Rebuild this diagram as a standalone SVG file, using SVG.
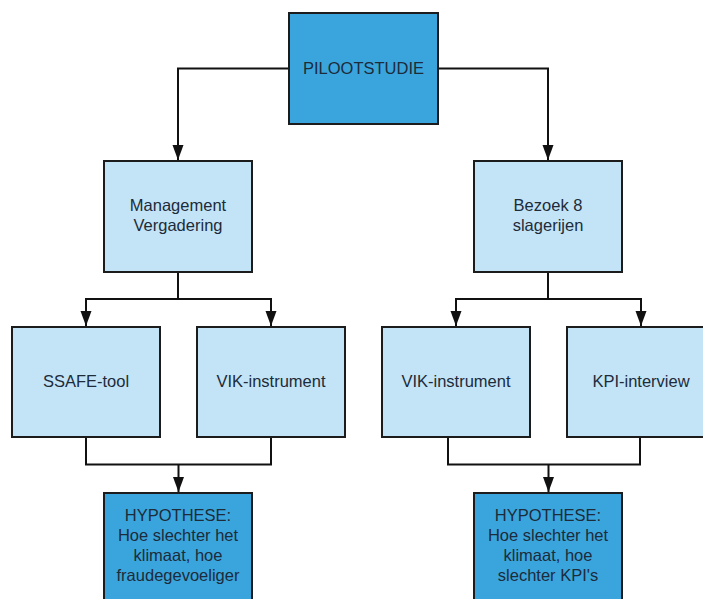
<svg xmlns="http://www.w3.org/2000/svg" width="703" height="599" viewBox="0 0 703 599">
  <defs>
    <style>
      .box { stroke: #1c1c1c; stroke-width: 2; }
      .dark { fill: #3aa5dd; }
      .light { fill: #c3e4f7; }
      .lbl { font-family: "Liberation Sans", Arial, sans-serif; font-size: 16.5px; fill: #1d2b3a; text-anchor: middle; }
      .wire { fill: none; stroke: #111; stroke-width: 2; }
    </style>
    <marker id="arrow" markerUnits="userSpaceOnUse" markerWidth="14" markerHeight="12" refX="15" refY="6" orient="auto">
      <path d="M0,0.5 L15,6 L0,11.5 z" fill="#111"/>
    </marker>
  </defs>

  <rect width="703" height="599" fill="#ffffff"/>

  <!-- connectors -->
  <g id="connectors">
    <path class="wire" d="M289,68.5 H178 V160" marker-end="url(#arrow)"/>
    <path class="wire" d="M438,68.5 H548 V160" marker-end="url(#arrow)"/>
    <path class="wire" d="M178,272 V299 H86 V326" marker-end="url(#arrow)"/>
    <path class="wire" d="M178,299 H271 V326" marker-end="url(#arrow)"/>
    <path class="wire" d="M548,272 V299 H456 V326" marker-end="url(#arrow)"/>
    <path class="wire" d="M548,299 H641 V326" marker-end="url(#arrow)"/>
    <path class="wire" d="M86,437 V464.5 H271 V437"/>
    <path class="wire" d="M178.5,464.5 V492" marker-end="url(#arrow)"/>
    <path class="wire" d="M448,437 V464.5 H640 V437"/>
    <path class="wire" d="M548.5,464.5 V492" marker-end="url(#arrow)"/>
  </g>

  <g id="pilootstudie">
    <rect class="box dark" x="289" y="13" width="149" height="111"/>
    <text class="lbl" x="363.5" y="74">PILOOTSTUDIE</text>
  </g>

  <g id="management">
    <rect class="box light" x="104" y="161" width="148" height="111"/>
    <text class="lbl" x="178" y="211">Management</text>
    <text class="lbl" x="178" y="231">Vergadering</text>
  </g>

  <g id="bezoek">
    <rect class="box light" x="474" y="161" width="148" height="111"/>
    <text class="lbl" x="548" y="211">Bezoek 8</text>
    <text class="lbl" x="548" y="231">slagerijen</text>
  </g>

  <g id="ssafe">
    <rect class="box light" x="12" y="327" width="148" height="110"/>
    <text class="lbl" x="86" y="387">SSAFE-tool</text>
  </g>

  <g id="vik-left">
    <rect class="box light" x="197" y="327" width="148" height="110"/>
    <text class="lbl" x="271" y="387">VIK-instrument</text>
  </g>

  <g id="vik-right">
    <rect class="box light" x="382" y="327" width="148" height="110"/>
    <text class="lbl" x="456" y="387">VIK-instrument</text>
  </g>

  <g id="kpi">
    <rect class="box light" x="567" y="327" width="148" height="110"/>
    <text class="lbl" x="641" y="387">KPI-interview</text>
  </g>

  <g id="hypothese-left">
    <rect class="box dark" x="104" y="493" width="148" height="130"/>
    <text class="lbl" x="178" y="521">HYPOTHESE:</text>
    <text class="lbl" x="178" y="541">Hoe slechter het</text>
    <text class="lbl" x="178" y="561">klimaat, hoe</text>
    <text class="lbl" x="178" y="581">fraudegevoeliger</text>
  </g>

  <g id="hypothese-right">
    <rect class="box dark" x="474" y="493" width="148" height="130"/>
    <text class="lbl" x="548" y="521">HYPOTHESE:</text>
    <text class="lbl" x="548" y="541">Hoe slechter het</text>
    <text class="lbl" x="548" y="561">klimaat, hoe</text>
    <text class="lbl" x="548" y="581">slechter KPI's</text>
  </g>
</svg>
